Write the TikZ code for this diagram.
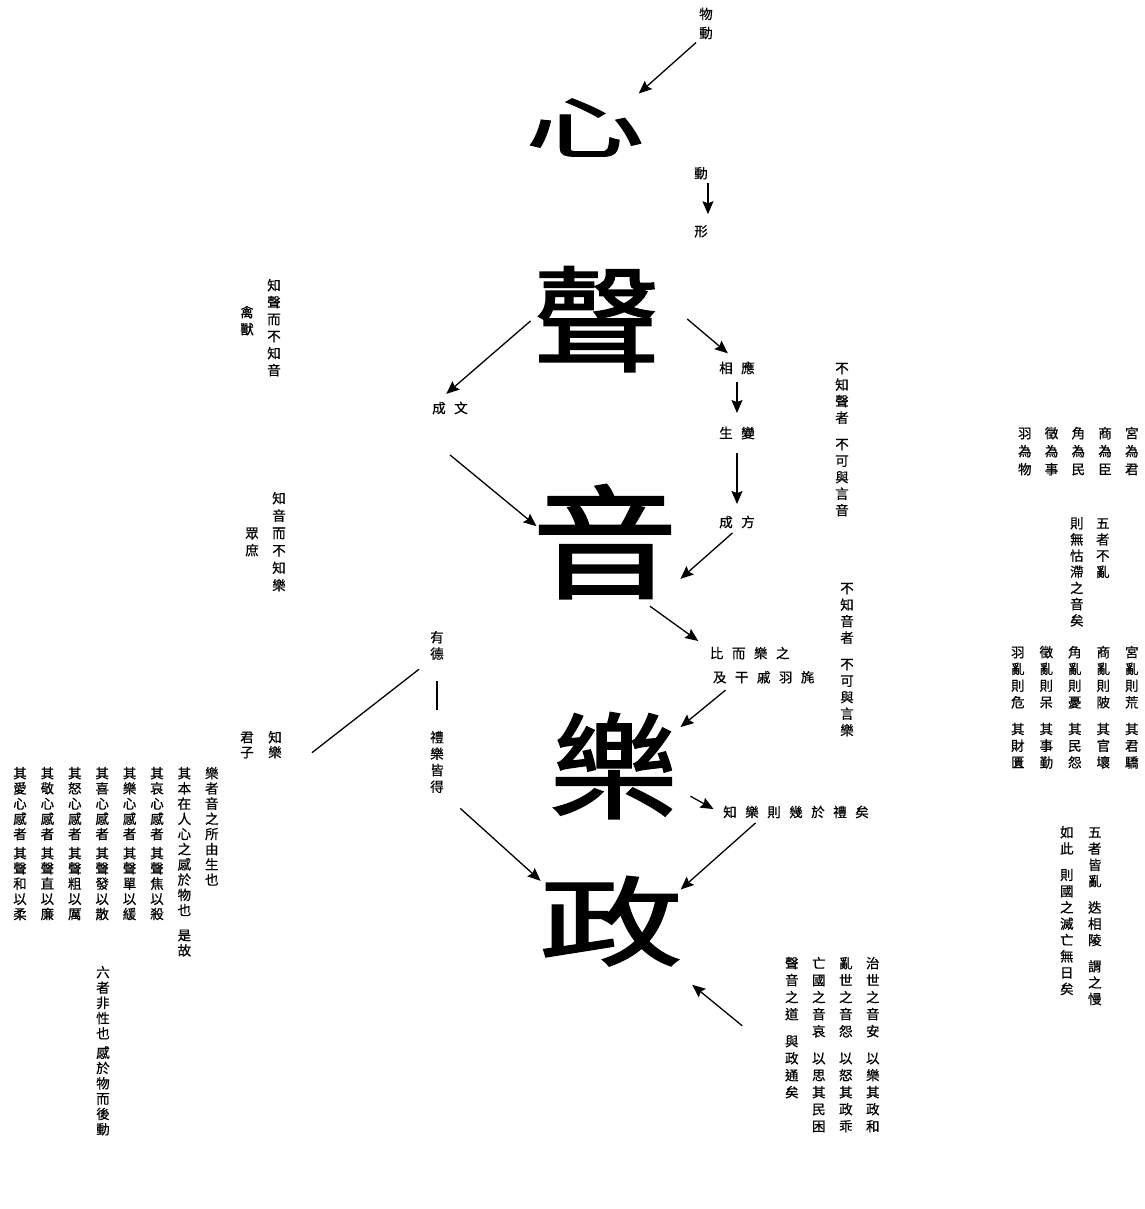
\documentclass[tikz,border=0pt]{standalone}
\usepackage{fontspec}
\newfontfamily\cjk[FakeBold=0.6]{Noto Sans CJK TC}
\newfontfamily\dacjk[FakeBold=1.5]{Noto Sans CJK TC}
\usetikzlibrary{arrows.meta}
\makeatletter
\newcommand\vcol[2][16.5pt]{\vtop{\baselineskip=#1\lineskiplimit=-\maxdimen\vc@run#2\@nil}}
\def\vc@run#1{\ifx#1\@nil\else\vc@put#1\expandafter\vc@run\fi}
\def\vc@put#1{\ifx#1|\vskip10pt\relax\else\ifx#1!\vskip4pt\relax\else\hbox to1em{\hss#1\hss\vrule height.88em depth.12em width0pt}\fi\fi}
\newcommand\htxt[1]{\hc@run#1\@nil}
\def\hc@run#1{\ifx#1\@nil\else\hbox to22pt{\hss#1\hss\vrule height.88em depth.12em width0pt}\expandafter\hc@run\fi}
\newcommand\dazi[4]{\raisebox{#3em}{\scalebox{#1}[#2]{#4}}\vrule height.88em depth.12em width0pt}
\makeatother
\begin{document}
\begin{tikzpicture}[x=1pt,y=-1pt,
  every node/.style={inner sep=0pt,font=\cjk\fontsize{13.5}{16}\selectfont},
  big/.style={font=\dacjk\fontsize{128}{128}\selectfont},
  col/.style={anchor=north},
  blk/.style={anchor=north east},
  arr/.style={line width=1.3pt,-{Stealth[length=13pt,width=11pt,inset=2pt]}},
  link/.style={line width=1.3pt}]
\useasboundingbox (0,0) rectangle (1144,1209);

\node[big] (xin) at (585,127) {\dazi{0.93}{0.52}{.182}{心}};
\node[big] (sheng) at (597,319) {\dazi{1}{0.89}{.042}{聲}};
\node[big] (yin) at (605,542) {\dazi{1.14}{0.96}{.015}{音}};
\node[big] (yue) at (614,766) {\dazi{1}{0.9}{.038}{樂}};
\node[big] (zheng) at (611,921) {\dazi{1.12}{0.76}{.091}{政}};

\node[col] (wudong) at (706,7) {\vcol[19pt]{物動}};
\node[col] (dong) at (701,166.25) {\vcol{動}};
\node[col] (xing) at (701,224.25) {\vcol{形}};
\node (chengwen) at (450,408) {\htxt{成文}};
\node (xiangying) at (737,368) {\htxt{相應}};
\node (shengbian) at (737,433) {\htxt{生變}};
\node (chengfang) at (737,522) {\htxt{成方}};
\node[anchor=north west,align=left] (bier) at (705.5,646.25) {\htxt{比而樂之}\\[8pt]\hspace*{3pt}\htxt{及干戚羽旄}};
\node (zhiyueze) at (796,812) {\htxt{知樂則幾於禮矣}};

\node[col] (zhisheng) at (274,278.25) {\vcol[17pt]{知聲而不知音}};
\node[col] (qinshou) at (247,305.25) {\vcol[17pt]{禽獸}};
\node[col] (zhiyin) at (279,491.25) {\vcol[17.4pt]{知音而不知樂}};
\node[col] (zhongshu) at (252,526.25) {\vcol[17pt]{眾庶}};
\node[col] (bzsheng) at (842,361.25) {\vcol{不知聲者|不可與言音}};
\node[col] (bzyin) at (847,581.25) {\vcol{不知音者|不可與言樂}};
\node[col] (youde) at (437,630.25) {\vcol{有德}};
\node[col] (liyue) at (437,730.25) {\vcol{禮樂皆得}};
\node[col] (zhiyue) at (275,730.25) {\vcol[15pt]{知樂}};
\node[col] (junzi) at (247,730.25) {\vcol[15pt]{君子}};
\node[col] (liuzhe) at (103,965.25) {\vcol[15.3pt]{六者非性也!感於物而後動}};

\node[blk] (gongwei) at (1138.75,426.25) {\vcol[18pt]{羽為物}\hspace{13.25pt}\vcol[18pt]{徵為事}\hspace{13.25pt}\vcol[18pt]{角為民}\hspace{13.25pt}\vcol[18pt]{商為臣}\hspace{13.25pt}\vcol[18pt]{宮為君}};
\node[blk] (wuzhe) at (1109.75,516.25) {\vcol[16.2pt]{則無怙滯之音矣}\hspace{12.5pt}\vcol[16.2pt]{五者不亂}};
\node[blk] (gongluan) at (1138.75,645.25) {\vcol[16.7pt]{羽亂則危|其財匱}\hspace{15pt}\vcol[16.7pt]{徵亂則呆|其事勤}\hspace{15pt}\vcol[16.7pt]{角亂則憂|其民怨}\hspace{15pt}\vcol[16.7pt]{商亂則陂|其官壞}\hspace{15pt}\vcol[16.7pt]{宮亂則荒|其君驕}};
\node[blk] (wuzhejie) at (1101.75,825.25) {\vcol[16.3pt]{如此|則國之滅亡無日矣}\hspace{14.5pt}\vcol[16.3pt]{五者皆亂|迭相陵|謂之慢}};
\node[blk] (zhishi) at (879.75,956.25) {\vcol[17pt]{聲音之道|與政通矣}\hspace{13.5pt}\vcol[17pt]{亡國之音哀|以思其民困}\hspace{13.5pt}\vcol[17pt]{亂世之音怨|以怒其政乖}\hspace{13.5pt}\vcol[17pt]{治世之音安|以樂其政和}};
\node[blk] (yuezhe) at (218.75,766.25) {\vcol[15.2pt]{其愛心感者!其聲和以柔}\hspace{13.9pt}\vcol[15.2pt]{其敬心感者!其聲直以廉}\hspace{13.9pt}\vcol[15.2pt]{其怒心感者!其聲粗以厲}\hspace{13.9pt}\vcol[15.2pt]{其喜心感者!其聲發以散}\hspace{13.9pt}\vcol[15.2pt]{其樂心感者!其聲單以緩}\hspace{13.9pt}\vcol[15.2pt]{其哀心感者!其聲焦以殺}\hspace{13.9pt}\vcol[15.2pt]{其本在人心之感於物也|是故}\hspace{13.9pt}\vcol[15.2pt]{樂者音之所由生也}};

\draw[arr,shorten <=4pt,shorten >=-8pt] (wudong.south west) -- (xin.33);
\draw[arr,shorten <=3pt,shorten >=10pt] (dong.south east) -- (xing.north east);
\draw[arr,shorten <=3pt,shorten >=11pt] (sheng.west) -- (chengwen.150);
\draw[arr,shorten >=-6pt] ([yshift=-40pt]chengwen.south) -- (yin.165);
\draw[arr,shorten >=12pt] ([xshift=26pt]sheng.east) -- (xiangying.north);
\draw[arr,shorten <=7pt,shorten >=13pt] (xiangying) -- (shengbian);
\draw[arr,shorten <=13pt,shorten >=11pt] (shengbian) -- (chengfang);
\draw[arr,shorten <=6pt,shorten >=3pt] (chengfang.south) -- (yin.-28);
\draw[arr,shorten >=9pt] (yin.-55) -- (bier.north west);
\draw[arr,shorten >=3pt] ([shift={(20,6)}]bier.south west) -- (yue.30);
\draw[arr,shorten <=14pt,shorten >=6pt] (yue.-20) -- (zhiyueze.west);
\draw[arr,shorten <=6pt,shorten >=-3pt] ([xshift=-36pt]zhiyueze.south) -- (zheng.25);
\draw[arr,shorten <=22pt,shorten >=-2pt] (liyue.south east) -- (zheng.150);
\draw[arr,shorten <=55pt,shorten >=12pt] ([yshift=-16pt]zhishi.west) -- (zheng.-38);
\draw[link,shorten <=14pt] (youde.south west) -- ([xshift=30pt,yshift=-8pt]zhiyue.east);
\draw[link,shorten <=20pt,shorten >=20pt] (youde) -- (liyue);
\end{tikzpicture}
\end{document}
